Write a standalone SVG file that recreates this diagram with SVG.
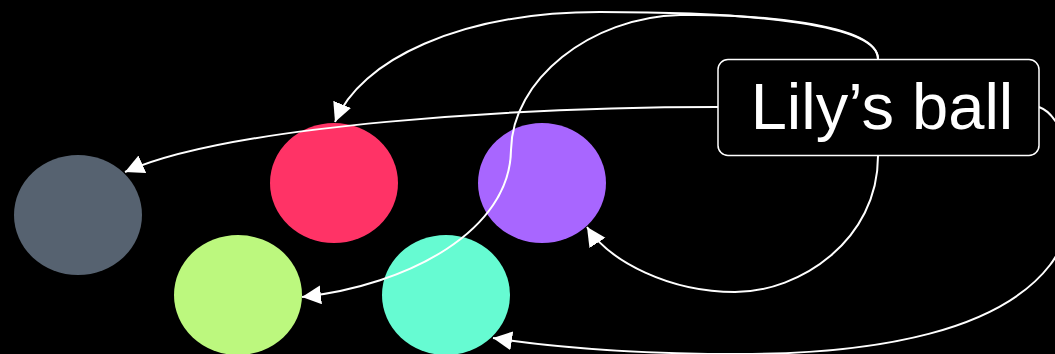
<svg xmlns="http://www.w3.org/2000/svg" width="1055" height="354" viewBox="0 0 1055 354">
<style>
.edge{fill:none;stroke:#fff;stroke-width:2}
.lbl{font-family:"Liberation Sans",Arial,sans-serif;fill:#fff}
</style>
<defs>
<marker id="arr" markerUnits="userSpaceOnUse" markerWidth="22" markerHeight="22" refX="19" refY="9.5" orient="auto">
<path d="M0,0 L19,9.5 L0,19 z" fill="#fff"/>
</marker>
</defs>
<rect width="1055" height="354" fill="#000"/>
<g id="n-grey"><ellipse cx="78" cy="215" rx="64" ry="60" fill="#566270"/></g>
<g id="n-red"><ellipse cx="334" cy="183" rx="64" ry="60" fill="#FF3366"/></g>
<g id="n-purple"><ellipse cx="542" cy="183" rx="64" ry="60" fill="#A866FF"/></g>
<g id="n-lime"><ellipse cx="238" cy="295" rx="64" ry="60" fill="#BCF87E"/></g>
<g id="n-teal"><ellipse cx="446" cy="295" rx="64" ry="60" fill="#66FBD2"/></g>
<g id="connectors">
<path class="edge" marker-end="url(#arr)" d="M878,59 C878,25 760,12 600,12 C460,12 360,60 335,122"/>
<path class="edge" marker-end="url(#arr)" d="M878,59 C878,22 745,14 680,15 C590,17 512,80 511,150 C510,230 410,285 302,297"/>
<path class="edge" marker-end="url(#arr)" d="M718,107 C520,107 230,125 125,172"/>
<path class="edge" marker-end="url(#arr)" d="M878,156 C878,240 800,292 735,292 C670,292 610,262 587,227"/>
<path class="edge" marker-end="url(#arr)" d="M1039,107 C1075,120 1085,220 1050,265 C1000,330 880,354 740,354 C640,354 560,348 493,338"/>
</g>
<g id="n-lily">
<rect x="718" y="59.5" width="321" height="96" rx="10" ry="10" fill="#000" stroke="#fff" stroke-width="1.5"/>
<text class="lbl" x="882" y="129" font-size="65" text-anchor="middle">Lily’s ball</text>
</g>
</svg>
